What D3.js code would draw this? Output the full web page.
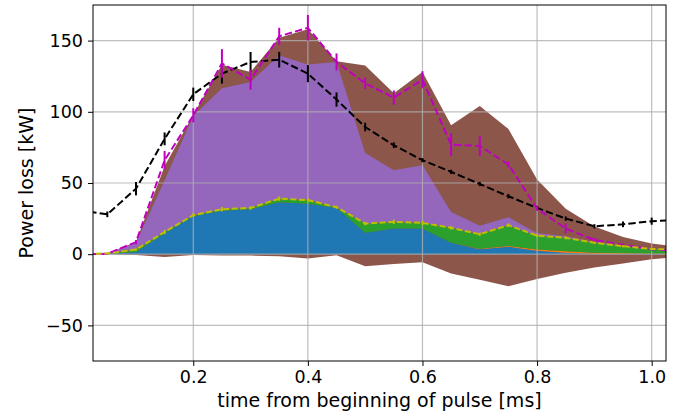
<!DOCTYPE html>
<head>
    <title>Power loss</title>
</head>
<style>
    body { margin: 0; background: #fff; }
    svg { font-family: "DejaVu Sans", sans-serif; }
</style>
<svg width="693" height="420"></svg>
<script src="https://d3js.org/d3.v7.min.js"></script>
<script>

    // time points [ms]
    var times = [0, 0.05, 0.1, 0.15, 0.2, 0.25, 0.3, 0.35, 0.4, 0.45, 0.5,
                 0.55, 0.6, 0.65, 0.7, 0.75, 0.8, 0.85, 0.9, 0.95, 1.0, 1.05];

    // stacked components [kW]
    var blue   = [0, 0.3, 1.6, 14.5, 26.7, 30.5, 31.5, 36.5, 35.5, 32.5, 15,
                  18, 18, 8, 3.5, 5.3, 2.5, 1, 0.4, 0.2, 0.1, 0];
    var orange = [0, 0, 0, 0, 0, 0, 0, 0, 0, 0, 0,
                  0, 0, 0, 0.3, 0.5, 0.8, 1, 0.7, 0.4, 0.3, 0.2];
    var green  = [0, 0.2, 1.7, 1.1, 0.7, 1.1, 1.0, 2.5, 2.5, 0.5, 6.5,
                  4.7, 4, 10.5, 10.2, 14.6, 9.7, 9.5, 6.9, 5, 3.3, 2.8];
    var purple = [0, 0.1, 4.7, 36.4, 69.6, 84.9, 88.5, 100.5, 95.3, 102, 49.5,
                  36.3, 40.5, 11.2, 6, 5.6, 1.8, 1.1, 0.6, 0.4, 0.3, 0.2];

    // uncertainty band
    var bandHigh = [0, 0.6, 8.5, 62, 98, 133, 128, 152, 158, 135.5, 132.5,
                    113, 128, 90.5, 104, 88, 52.5, 32, 19.5, 12, 7.5, 5];
    var bandLow  = [0, 0, -0.5, -1.9, -0.5, -1, -1, -1.5, -3, -0.7, -8.4,
                    -6.8, -5.6, -13.6, -18, -22.5, -17.5, -13, -9.3, -6.5, -3.5, -2];

    // measured lines with error bars
    var measured    = [31, 28, 46, 81, 112.3, 126.8, 135, 136.6, 126.8, 108.6, 89.3,
                       76.5, 66, 57.8, 49.3, 40.7, 32.5, 25, 19.6, 21, 23.2, 24];
    var measuredErr = [2, 2, 4.7, 4.5, 4.7, 7, 7, 5.5, 6, 5, 3,
                       2, 1.5, 1.5, 1.5, 1.5, 1.5, 1.5, 1.5, 2, 2.5, 2.5];
    var total       = [0, 0.3, 8.5, 66, 97.5, 134, 122.5, 153, 159, 135, 120,
                       110, 122.5, 77, 76, 63, 32, 18, 10, 6.5, 3.5, 2];
    var totalErr    = [0, 0.5, 1.5, 6.5, 5, 10, 7, 6, 9, 6, 4,
                       5, 6, 8, 7, 2, 1.5, 3.5, 1.5, 1, 1, 1];
    var partial     = [0, 0.5, 3.3, 15.6, 27.4, 31.6, 32.5, 39, 38, 33, 21.5,
                       22.7, 22, 18.5, 14, 20.4, 13, 11.5, 8, 5.6, 3.7, 3];
    var partialErr  = [0, 0.3, 0.8, 1.5, 1.2, 1.5, 1.2, 1.5, 1.2, 1, 1.2,
                       1.5, 1.5, 1.2, 1.2, 1.2, 1, 1, 0.8, 0.8, 0.8, 0.8];

    var xTicks = [0.2, 0.4, 0.6, 0.8, 1.0];
    var yTicks = [-50, 0, 50, 100, 150];

    var svg = d3.select("svg"),
        margin = {top: 5, right: 27, bottom: 59, left: 93},
        width = 693 - margin.left - margin.right,
        height = 420 - margin.top - margin.bottom;

    var x = d3.scaleLinear().domain([0.025, 1.025]).range([0, width]),
        y = d3.scaleLinear().domain([-75, 175]).range([height, 0]);

    var g = svg.append("g")
        .attr("transform", "translate(" + margin.left + "," + margin.top + ")");

    g.append("clipPath").attr("id", "clip")
        .append("rect").attr("width", width).attr("height", height);

    var plot = g.append("g").attr("clip-path", "url(#clip)");

    var rows = times.map(function(t, i) {
        return {t: t, blue: blue[i], orange: orange[i], green: green[i], purple: purple[i]};
    });

    // band behind the stack
    plot.append("path")
        .datum(times)
        .attr("fill", "#8c564b")
        .attr("d", d3.area()
            .x(function(d) { return x(d); })
            .y0(function(d, i) { return y(bandLow[i]); })
            .y1(function(d, i) { return y(bandHigh[i]); }));

    var keys = ["blue", "orange", "green", "purple"],
        colors = {blue: "#1f77b4", orange: "#ff7f0e", green: "#2ca02c", purple: "#9467bd"};

    var stack = d3.stack().keys(keys)(rows);

    plot.selectAll(".layer")
        .data(stack)
        .enter().append("path")
        .attr("class", "layer")
        .attr("fill", function(d) { return colors[d.key]; })
        .attr("d", d3.area()
            .x(function(d) { return x(d.data.t); })
            .y0(function(d) { return y(d[0]); })
            .y1(function(d) { return y(d[1]); }));

    // grid on top of the areas
    plot.selectAll(".gx")
        .data(xTicks)
        .enter().append("line")
        .attr("x1", x).attr("x2", x)
        .attr("y1", 0).attr("y2", height)
        .attr("stroke", "#b0b0b0").attr("stroke-width", 1.2).attr("opacity", 0.8);

    plot.selectAll(".gy")
        .data(yTicks)
        .enter().append("line")
        .attr("y1", y).attr("y2", y)
        .attr("x1", 0).attr("x2", width)
        .attr("stroke", "#b0b0b0").attr("stroke-width", 1.2).attr("opacity", 0.8);

    function errLine(vals, errs, color, dash) {
        plot.append("path")
            .datum(vals)
            .attr("fill", "none")
            .attr("stroke", color)
            .attr("stroke-width", 2)
            .attr("stroke-dasharray", dash)
            .attr("d", d3.line()
                .x(function(d, i) { return x(times[i]); })
                .y(function(d) { return y(d); }));

        plot.append("g").selectAll("line")
            .data(vals)
            .enter().append("line")
            .attr("x1", function(d, i) { return x(times[i]); })
            .attr("x2", function(d, i) { return x(times[i]); })
            .attr("y1", function(d, i) { return y(d - errs[i]); })
            .attr("y2", function(d, i) { return y(d + errs[i]); })
            .attr("stroke", color)
            .attr("stroke-width", 2);
    }

    errLine(measured, measuredErr, "#000000", "7.4,3.2");
    errLine(total, totalErr, "#bf00bf", "7.4,3.2");
    errLine(partial, partialErr, "#bfbf00", "6,2.6");

    // axes
    var xAxis = g.append("g")
        .attr("transform", "translate(0," + height + ")")
        .call(d3.axisBottom(x).tickValues(xTicks).tickFormat(d3.format(".1f")).tickSizeOuter(0).tickSize(5).tickPadding(5));

    var yAxis = g.append("g")
        .call(d3.axisLeft(y).tickValues(yTicks).tickFormat(function(d) { return d < 0 ? "\u2212" + Math.abs(d) : d; })
            .tickSizeOuter(0).tickSize(5).tickPadding(5));

    g.selectAll(".tick text")
        .attr("font-family", "DejaVu Sans")
        .attr("font-size", "17.5px")
        .attr("fill", "#000");
    g.selectAll(".tick line").attr("stroke", "#000").attr("stroke-width", 1);
    g.selectAll(".domain").remove();

    g.append("rect")
        .attr("width", width)
        .attr("height", height)
        .attr("fill", "none")
        .attr("stroke", "#000")
        .attr("stroke-width", 1);

    svg.append("text")
        .attr("x", margin.left + width / 2)
        .attr("y", 407)
        .attr("text-anchor", "middle")
        .attr("font-size", "19px")
        .text("time from beginning of pulse [ms]");

    svg.append("text")
        .attr("transform", "translate(33," + (margin.top + height / 2) + ") rotate(-90)")
        .attr("text-anchor", "middle")
        .attr("font-size", "19px")
        .text("Power loss [kW]");

</script>
